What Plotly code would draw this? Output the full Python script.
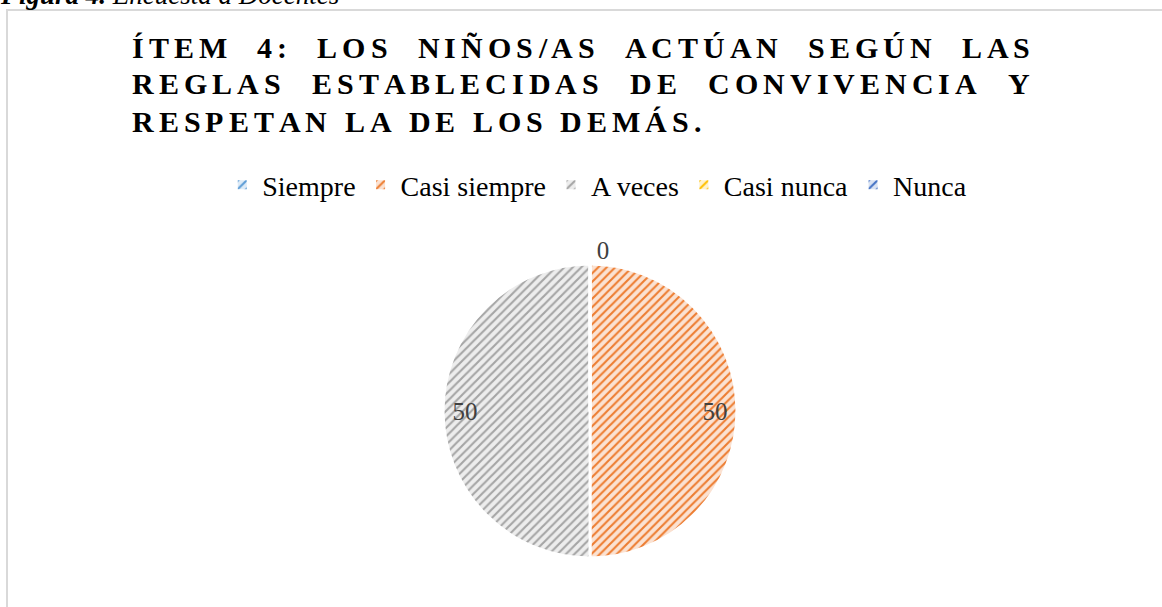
import plotly.graph_objects as go

# datos de la encuesta
categorias = ["Siempre", "Casi siempre", "A veces", "Casi nunca", "Nunca"]
valores = [0, 50, 50, 0, 0]
colores = ["#5B9BD5", "#ED7D31", "#A5A5A5", "#FFC000", "#4472C4"]
fondos = ["#DEEBF7", "#FBE2D2", "#EDEDED", "#FFF2CC", "#DAE3F3"]
etiquetas = ["%{value}", "%{value}", "%{value}", "", ""]
posiciones = ["outside", "inside", "inside", "outside", "outside"]

titulo = ["ÍTEM 4: LOS NIÑOS/AS ACTÚAN SEGÚN LAS",
          "REGLAS ESTABLECIDAS DE CONVIVENCIA Y",
          "RESPETAN LA DE LOS DEMÁS."]

W, H = 1162, 607
FUENTE = "Liberation Serif"
F = 30  # tamaño del titulo
ESP = 5.0  # espaciado extra entre letras

# anchos (em) de Times bold, para espaciar el titulo letra a letra
ANCHO = {"A": .722, "Á": .722, "B": .667, "C": .722, "D": .722, "E": .667, "G": .778,
         "I": .389, "Í": .389, "L": .667, "M": .944, "N": .722, "Ñ": .722, "O": .778,
         "P": .611, "R": .722, "S": .556, "T": .667, "U": .722, "Ú": .722, "V": .722,
         "Y": .722, "4": .5, ":": .333, "/": .278, ".": .25}


def px_x(x):
    return x / W


def px_y(y):
    return 1 - y / H


def colocar(linea, ypx, s, justificar, x0=132, x1=1030):
    palabras = linea.split()
    anchos = [sum(ANCHO[c] for c in p) * F + (len(p) - 1) * s for p in palabras]
    if justificar:
        hueco = (x1 - x0 - sum(anchos)) / (len(palabras) - 1)
    else:
        hueco = 2 * s + 0.25 * F
    anots = []
    x = x0
    for p in palabras:
        for c in p:
            anots.append(dict(
                text="<b>" + c + "</b>", x=px_x(x - 2), y=px_y(ypx),
                xref="paper", yref="paper", xanchor="left", yanchor="middle",
                showarrow=False, font=dict(family=FUENTE, size=F, color="black")))
            x += ANCHO[c] * F + s
        x += hueco - s
    return anots


fig = go.Figure()

dominio = dict(x=[px_x(443), px_x(737)], y=[px_y(558), px_y(264)])

# pastel con tramado
fig.add_trace(go.Pie(
    labels=categorias,
    values=valores,
    sort=False,
    direction="clockwise",
    rotation=0,
    textinfo="none",
    marker=dict(
        colors=fondos,
        line=dict(color="white", width=3),
        pattern=dict(shape="/", fgcolor=colores, bgcolor=fondos,
                     size=6, solidity=0.35, fillmode="replace"),
    ),
    hoverinfo="label+value",
    domain=dominio,
))

# capa transparente solo para las etiquetas (cerca del borde, como en Excel)
fig.add_trace(go.Pie(
    labels=categorias,
    values=valores,
    sort=False,
    direction="clockwise",
    rotation=0,
    hole=0.7,
    texttemplate=etiquetas,
    textposition=posiciones,
    insidetextorientation="horizontal",
    textfont=dict(family=FUENTE, size=25, color="#404040"),
    marker=dict(colors=["rgba(0,0,0,0)"] * len(valores), line=dict(width=0)),
    hoverinfo="skip",
    showlegend=False,
    domain=dominio,
))

anotaciones = []
anotaciones += colocar(titulo[0], 47, ESP, True)
anotaciones += colocar(titulo[1], 84, ESP, True)
anotaciones += colocar(titulo[2], 121, ESP, False)

# rotulo de la figura (cortado arriba)
anotaciones.append(dict(
    text="<b><i>Figura 4.</i></b><i> Encuesta a Docentes</i>",
    x=px_x(-2), y=px_y(12), xref="paper", yref="paper", xanchor="left", yanchor="bottom",
    showarrow=False, font=dict(family=FUENTE, size=27, color="black")))

fig.update_layout(
    width=W, height=H,
    margin=dict(l=0, r=0, t=0, b=0),
    paper_bgcolor="white",
    plot_bgcolor="white",
    annotations=anotaciones,
    showlegend=True,
    legend=dict(orientation="h", x=0.514, xanchor="center", y=px_y(160), yanchor="top",
                font=dict(family=FUENTE, size=28, color="black"),
                traceorder="normal"),
    shapes=[dict(type="rect", xref="paper", yref="paper",
                 x0=px_x(7), x1=1.05, y0=-0.05, y1=px_y(10),
                 line=dict(color="#D9D9D9", width=2), layer="below")],
)

fig.write_html("out.html", config={"displayModeBar": False},
               post_script="document.body.style.margin = '0';")
